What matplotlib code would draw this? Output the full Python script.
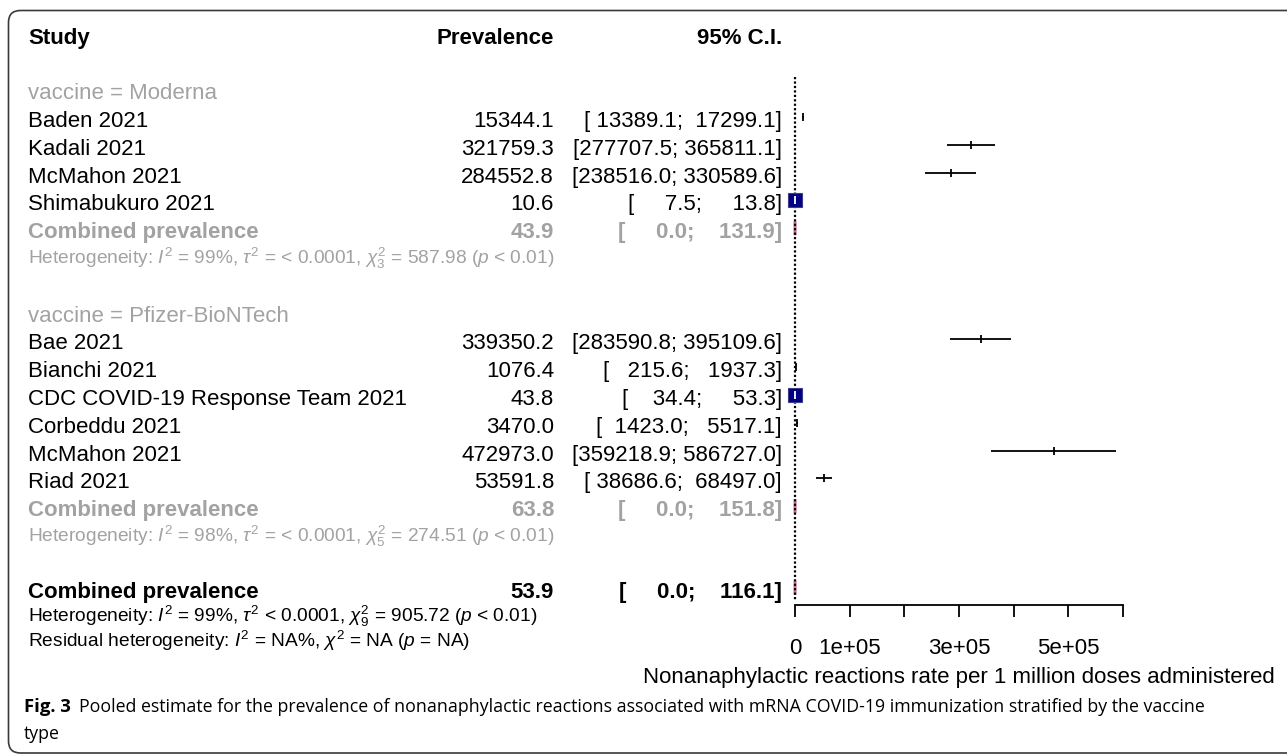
import matplotlib

matplotlib.use("Agg")
import matplotlib.pyplot as plt
from matplotlib import font_manager
from matplotlib.patches import FancyBboxPatch, Polygon

# ---- data -----------------------------------------------------------------
moderna_label = "vaccine = Moderna"
moderna_studies = ["Baden 2021", "Kadali 2021", "McMahon 2021", "Shimabukuro 2021"]
moderna_prev = [15344.1, 321759.3, 284552.8, 10.6]
moderna_lower = [13389.1, 277707.5, 238516.0, 7.5]
moderna_upper = [17299.1, 365811.1, 330589.6, 13.8]
moderna_weight = [0.0, 0.0, 0.0, 49.0]
moderna_pooled = [43.9, 0.0, 131.9]
moderna_het = r"Heterogeneity: $I^2$ = 99%, $\tau^2$ = < 0.0001, $\chi^2_3$ = 587.98 ($p$ < 0.01)"

pfizer_label = "vaccine = Pfizer-BioNTech"
pfizer_studies = ["Bae 2021", "Bianchi 2021", "CDC COVID-19 Response Team 2021",
                  "Corbeddu 2021", "McMahon 2021", "Riad 2021"]
pfizer_prev = [339350.2, 1076.4, 43.8, 3470.0, 472973.0, 53591.8]
pfizer_lower = [283590.8, 215.6, 34.4, 1423.0, 359218.9, 38686.6]
pfizer_upper = [395109.6, 1937.3, 53.3, 5517.1, 586727.0, 68497.0]
pfizer_weight = [0.0, 0.0, 49.0, 0.0, 0.0, 0.0]
pfizer_pooled = [63.8, 0.0, 151.8]
pfizer_het = r"Heterogeneity: $I^2$ = 98%, $\tau^2$ = < 0.0001, $\chi^2_5$ = 274.51 ($p$ < 0.01)"

overall_pooled = [53.9, 0.0, 116.1]
overall_het = r"Heterogeneity: $I^2$ = 99%, $\tau^2$ < 0.0001, $\chi^2_9$ = 905.72 ($p$ < 0.01)"
residual_het = r"Residual heterogeneity: $I^2$ = NA%, $\chi^2$ = NA ($p$ = NA)"

x_ticks = [0, 100000, 200000, 300000, 400000, 500000, 600000]
x_tick_labels = ["0", "1e+05", "", "3e+05", "", "5e+05", ""]
x_label = "Nonanaphylactic reactions rate per 1 million doses administered"
caption_bold = "Fig. 3"
caption_lines = [
    "Pooled estimate for the prevalence of nonanaphylactic reactions associated "
    "with mRNA COVID-19 immunization stratified by the vaccine",
    "type",
]

# ---- style ----------------------------------------------------------------
W, H = 1287, 755
AX_X0, AX_X1 = 795, 1123          # pixel span of the forest axis
AXIS_Y = 605
TEXT_X, PREV_X, CI_X = 28, 554, 782
GRAY = "#a2a2a2"
NAVY = "#000080"
PINK = "#cf6f8c"
FONT = "Liberation Sans"
installed = {f.name for f in font_manager.fontManager.ttflist}
NARROW = "Liberation Sans Narrow" if "Liberation Sans Narrow" in installed else FONT
CAPTION_FONT = "Open Sans"
MAIN_SIZE = 16
HET_SIZE = 15 if NARROW != FONT else 13.8

plt.rcParams.update({
    "font.family": [FONT, "DejaVu Sans"],
    "mathtext.fontset": "custom",
    "mathtext.rm": NARROW,
    "mathtext.it": NARROW + ":italic",
    "mathtext.bf": NARROW + ":bold",
})


def row_y(i):
  return 119 + (i - 3) * 27.8


def fmt(v):
  return f"{v:.1f}"


all_lo = moderna_lower + pfizer_lower + [moderna_pooled[1], pfizer_pooled[1], overall_pooled[1]]
all_hi = moderna_upper + pfizer_upper + [moderna_pooled[2], pfizer_pooled[2], overall_pooled[2]]
LO_W = max(len(fmt(v)) for v in all_lo)
HI_W = max(len(fmt(v)) for v in all_hi)


def ci_text(lo, hi):
  return "[" + fmt(lo).rjust(LO_W) + "; " + fmt(hi).rjust(HI_W) + "]"


fig = plt.figure(figsize=(W / 100, H / 100), dpi=100)
tax = fig.add_axes([0, 0, 1, 1])
tax.set_xlim(0, W)
tax.set_ylim(H, 0)
tax.axis("off")

fax = fig.add_axes([AX_X0 / W, 0, (AX_X1 - AX_X0) / W, 1])
fax.set_xlim(x_ticks[0], x_ticks[-1])
fax.set_ylim(H, 0)
fax.patch.set_alpha(0)
for side in ("top", "left", "right"):
  fax.spines[side].set_visible(False)
fax.spines["bottom"].set_position(("data", AXIS_Y))
fax.spines["bottom"].set_linewidth(1.3)
fax.set_yticks([])
fax.set_xticks(x_ticks)
fax.set_xticklabels(x_tick_labels)
fax.tick_params(axis="x", direction="out", length=8.6, width=1.3, pad=15,
                labelsize=MAIN_SIZE, colors="black")
fax.set_xlabel(x_label, fontsize=MAIN_SIZE)
fax.xaxis.label.set_va("center")
fax.xaxis.set_label_coords(0.5, 1 - 677 / H)

# frame
tax.add_patch(FancyBboxPatch((8.5, 10.5), 1400, 742.5,
                             boxstyle="round,pad=0,rounding_size=12",
                             lw=1.2, ec="#3a3a3a", fc="none", clip_on=False))


def put(x, y, s, ha="left", color="black", size=MAIN_SIZE, weight="normal",
        family=None):
  tax.text(x, y + 0.36 * size * 100 / 72, s, ha=ha, va="baseline",
           color=color, fontsize=size, fontweight=weight,
           family=family or [FONT, "DejaVu Sans"])


# header
put(TEXT_X, row_y(0), "Study", weight="bold")
put(PREV_X, row_y(0), "Prevalence", ha="right", weight="bold")
put(CI_X, row_y(0), "95% C.I.", ha="right", weight="bold")

# reference line
fax.plot([0, 0], [row_y(1.5), AXIS_Y - 5], color="black", lw=1.6,
         ls=(0, (1, 1.0)), clip_on=False)


def study_mark(est, lo, hi, w, y):
  y = y - 2
  fax.plot([lo, hi], [y, y], color="black", lw=1.3, solid_capstyle="butt",
           clip_on=False)
  if w > 0:
    fax.plot([est], [y], marker="s", ms=10.6 * (w / 49.0) ** 0.5, mfc=NAVY,
             mec="#3c3c8c", mew=0.8, clip_on=False)
  fax.plot([est], [y], marker="|", ms=6, mew=1.3,
           color="white" if w > 0 else "black", clip_on=False)


def diamond(est, lo, hi, y):
  y = y - 2
  fax.add_patch(Polygon([(lo, y), (est, y - 7), (hi, y), (est, y + 7)],
                        closed=True, fc=PINK, ec=PINK, lw=1.8, clip_on=False))


groups = [
    (moderna_label, moderna_studies, moderna_prev, moderna_lower, moderna_upper,
     moderna_weight, moderna_pooled, moderna_het),
    (pfizer_label, pfizer_studies, pfizer_prev, pfizer_lower, pfizer_upper,
     pfizer_weight, pfizer_pooled, pfizer_het),
]

row = 2
for label, names, prev, lower, upper, weight, pooled, het in groups:
  put(TEXT_X, row_y(row), label, color=GRAY)
  for k, name in enumerate(names):
    y = row_y(row + 1 + k)
    put(TEXT_X, y, name)
    put(PREV_X, y, fmt(prev[k]), ha="right")
    put(CI_X, y, ci_text(lower[k], upper[k]), ha="right")
    study_mark(prev[k], lower[k], upper[k], weight[k], y)
  y = row_y(row + 1 + len(names))
  put(TEXT_X, y, "Combined prevalence", color=GRAY, weight="bold")
  put(PREV_X, y, fmt(pooled[0]), ha="right", color=GRAY, weight="bold")
  put(CI_X, y, ci_text(pooled[1], pooled[2]), ha="right", color=GRAY,
      weight="bold")
  diamond(pooled[0], pooled[1], pooled[2], y)
  put(TEXT_X, row_y(row + 2 + len(names)) - 1, het, color=GRAY, size=HET_SIZE,
      family=[NARROW, "DejaVu Sans"])
  row += len(names) + 4

y = row_y(row) - 2
put(TEXT_X, y, "Combined prevalence", weight="bold")
put(PREV_X, y, fmt(overall_pooled[0]), ha="right", weight="bold")
put(CI_X, y, ci_text(overall_pooled[1], overall_pooled[2]), ha="right",
    weight="bold")
diamond(overall_pooled[0], overall_pooled[1], overall_pooled[2], y)
put(TEXT_X, 615, overall_het, size=HET_SIZE, family=[NARROW, "DejaVu Sans"])
put(TEXT_X, 640, residual_het, size=HET_SIZE, family=[NARROW, "DejaVu Sans"])

# caption
renderer = fig.canvas.get_renderer()
cap_size = 12.8
t = tax.text(TEXT_X - 4, 707, caption_bold, ha="left", va="center",
             fontsize=cap_size + 0.5, fontweight="bold",
             family=[CAPTION_FONT, "DejaVu Sans"])
bb = t.get_window_extent(renderer)
tax.text(bb.x1 + 8, 707, caption_lines[0], ha="left", va="center",
         fontsize=cap_size, family=[CAPTION_FONT, "DejaVu Sans"])
tax.text(TEXT_X - 4, 734, caption_lines[1], ha="left", va="center",
         fontsize=cap_size, family=[CAPTION_FONT, "DejaVu Sans"])

fig.savefig("out.png", dpi=100)
